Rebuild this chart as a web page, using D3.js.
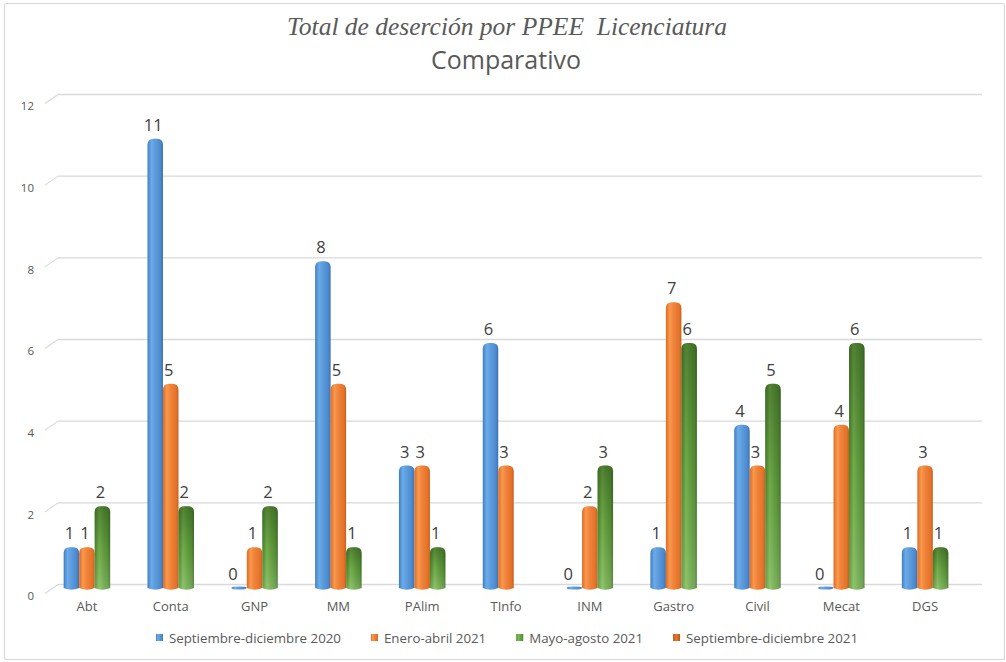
<!DOCTYPE html>
<html><head><meta charset="utf-8">
<script src="https://cdn.jsdelivr.net/npm/d3@7"></script>
<style>
html,body{margin:0;padding:0;background:#fff;}
svg{display:block;}
</style></head>
<body>
<svg id="chart" width="1006" height="662"></svg>
<script>
const categories = ["Abt","Conta","GNP","MM","PAlim","TInfo","INM","Gastro","Civil","Mecat","DGS"];
const seriesNames = ["Septiembre-diciembre 2020","Enero-abril 2021","Mayo-agosto 2021","Septiembre-diciembre 2021"];
const sep2020 = [1,11,0,8,3,6,0,1,4,0,1];
const ene2021 = [1,5,1,5,3,3,2,7,3,4,3];
const may2021 = [2,2,2,1,1,null,3,6,5,6,1];
const sep2021 = [null,null,null,null,null,null,null,null,null,null,null];
const yTicks = [0,2,4,6,8,10,12];
const titleText = "Total de deserción por PPEE  Licenciatura";
const subtitleText = "Comparativo";

const seriesValues = [sep2020, ene2021, may2021, sep2021];
const svg = d3.select("#chart");
const defs = svg.append("defs");

// gradients
function hGrad(id, stops){
  const g = defs.append("linearGradient").attr("id", id).attr("x1","0").attr("x2","1").attr("y1","0").attr("y2","0");
  stops.forEach(s => g.append("stop").attr("offset", s[0]).attr("stop-color", s[1]));
}
hGrad("gBlue", [[0,"#3f7dc2"],[0.25,"#6cabe8"],[0.5,"#5d9cdc"],[0.85,"#4b89cd"],[1,"#3a70b0"]]);
hGrad("gOrange", [[0,"#e06a1f"],[0.25,"#f8994f"],[0.5,"#f0823a"],[0.85,"#e4732a"],[1,"#c95f1a"]]);
hGrad("gGreen", [[0,"#4d8a30"],[0.3,"#7dbb52"],[0.55,"#6aa844"],[0.85,"#5a9638"],[1,"#44772b"]]);
hGrad("gOrange2", [[0,"#c65a1e"],[0.5,"#e8762f"],[1,"#b85418"]]);
const vg = defs.append("linearGradient").attr("id","gGreenV").attr("x1","0").attr("x2","0").attr("y1","0").attr("y2","1");
vg.append("stop").attr("offset",0).attr("stop-color","#1f3d10").attr("stop-opacity",0.45);
vg.append("stop").attr("offset",0.5).attr("stop-color","#1f3d10").attr("stop-opacity",0.12);
vg.append("stop").attr("offset",1).attr("stop-color","#ffffff").attr("stop-opacity",0.15);
const fills = ["url(#gBlue)","url(#gOrange)","url(#gGreen)","url(#gOrange2)"];
const legendFills = ["url(#gBlue)","url(#gOrange)","url(#gGreen)","url(#gOrange2)"];

// frame
svg.append("rect").attr("x",4.5).attr("y",3.5).attr("width",1000).attr("height",656)
  .attr("fill","#fff").attr("stroke","#d9d9d9").attr("stroke-width",1.2).attr("rx",2);

// title
svg.append("text").attr("x",507).attr("y",35).attr("text-anchor","middle")
  .style("white-space","pre")
  .attr("font-family","'Liberation Serif', serif").attr("font-style","italic")
  .attr("font-size",25.5).attr("fill","#595959").text(titleText);
svg.append("text").attr("x",506).attr("y",69).attr("text-anchor","middle")
  .attr("font-family","'Open Sans', sans-serif")
  .attr("font-size",25).attr("fill","#595959").text(subtitleText);

// scales
const y = d3.scaleLinear().domain([0,12]).range([588,98]);
const x0 = d3.scaleBand().domain(categories).range([45,967]).padding(0);
const barW = 15.5;
const x1 = d3.scaleBand().domain([0,1,2]).range([-1.5*barW, 1.5*barW]).padding(0);

// gridlines with perspective stubs
const grid = svg.append("g");
yTicks.forEach(t => {
  const yy = y(t) - 3.5;
  grid.append("line").attr("x1",58).attr("x2",982).attr("y1",yy).attr("y2",yy)
    .attr("stroke","#d9d9d9").attr("stroke-width",1.3);
  grid.append("line").attr("x1",45).attr("x2",58).attr("y1",yy+9).attr("y2",yy)
    .attr("stroke","#d9d9d9").attr("stroke-width",1.1);
});

// y axis labels via d3 axis
const yAxis = d3.axisLeft(y).tickValues(yTicks).tickSize(0).tickPadding(0);
const yg = svg.append("g").attr("transform","translate(34,8)").call(yAxis);
yg.select(".domain").remove();
yg.selectAll("text").attr("font-family","'Open Sans', sans-serif").attr("font-size",11.5).attr("fill","#595959");

// x axis labels via d3 axis
const xAxis = d3.axisBottom(x0).tickSize(0).tickPadding(0);
const xg = svg.append("g").attr("transform","translate(0,602)").call(xAxis);
xg.select(".domain").remove();
xg.selectAll("text").attr("font-family","'Open Sans', sans-serif").attr("font-size",13).attr("fill","#595959");

// bars
function barPath(xl, w, yt, yb){
  const r = Math.min(6, (yb-yt)/2);
  return `M${xl},${yb} L${xl},${yt+r} Q${xl},${yt} ${xl+r},${yt} L${xl+w-r},${yt} Q${xl+w},${yt} ${xl+w},${yt+r} L${xl+w},${yb} Q${xl+w/2},${yb+3.5} ${xl},${yb} Z`;
}
const bars = svg.append("g");
const labels = svg.append("g");
categories.forEach((c,i) => {
  [0,1,2].forEach(s => {
    const v = seriesValues[s][i];
    if (v === null || v === undefined) return;
    const xl = x0(c) + x0.bandwidth()/2 + x1(s);
    const w = x1.bandwidth();
    if (v === 0) {
      bars.append("ellipse").attr("cx", xl + w/2).attr("cy", y(0)).attr("rx", w/2).attr("ry", 1.6)
        .attr("fill", fills[s]);
    } else {
      bars.append("path").attr("d", barPath(xl, w, y(v), y(0))).attr("fill", fills[s]);
      if (s === 2) bars.append("path").attr("d", barPath(xl, w, y(v), y(0))).attr("fill", "url(#gGreenV)");
    }
    labels.append("text").attr("x", xl + w/2 - (v===0?6:2)).attr("y", y(v) - 8)
      .attr("text-anchor","middle").attr("font-family","'Open Sans', sans-serif")
      .attr("font-size",16.5).attr("fill","#404040").text(v);
  });
});

// legend
const lg = svg.append("g").attr("transform","translate(0,638)");
const items = lg.selectAll("g").data(seriesNames).join("g");
items.append("rect").attr("x",0).attr("y",-4).attr("width",7).attr("height",7)
  .attr("fill",(d,i)=>legendFills[i]);
items.append("text").attr("x",13).attr("y",0).attr("dy","0.35em")
  .attr("font-family","'Open Sans', sans-serif").attr("font-size",13.3).attr("fill","#595959").text(d=>d);
const widths = [];
items.each(function(){ widths.push(13 + d3.select(this).select("text").node().getComputedTextLength()); });
const gap = 30;
const total = d3.sum(widths) + gap*(widths.length-1);
let cx = 507 - total/2;
items.each(function(d,i){ d3.select(this).attr("transform",`translate(${cx},0)`); cx += widths[i] + gap; });
</script>
</body></html>
